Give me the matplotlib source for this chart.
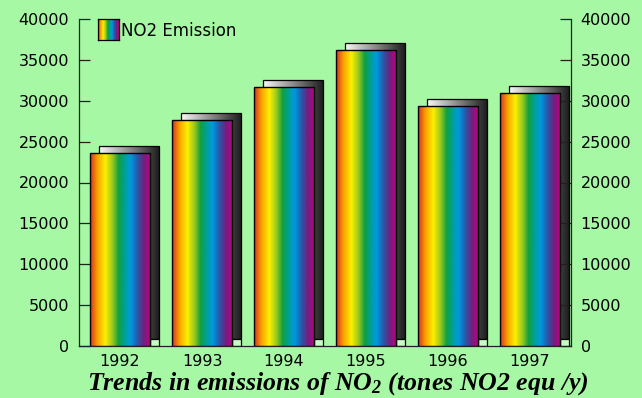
import numpy as np
import matplotlib
matplotlib.use("Agg")
import matplotlib.pyplot as plt
from matplotlib.colors import LinearSegmentedColormap
from matplotlib.patches import Rectangle
from matplotlib.transforms import offset_copy

# data
years = ["1992", "1993", "1994", "1995", "1996", "1997"]
emission = [23600, 27650, 31700, 36200, 29400, 30900]
series_label = "NO2 Emission"
yticks = [0, 5000, 10000, 15000, 20000, 25000, 30000, 35000, 40000]

bg = "#a6f8a4"
rainbow = LinearSegmentedColormap.from_list("rainbow_bar", [
    (0.00, "#d83020"), (0.12, "#f8a000"), (0.25, "#fff000"), (0.37, "#98c820"),
    (0.47, "#10a040"), (0.57, "#00a098"), (0.67, "#0098e0"), (0.78, "#2858a8"),
    (0.88, "#702080"), (1.00, "#c00080")])
greys = LinearSegmentedColormap.from_list("shade", ["#fafafa", "#8a8a8a", "#1a1a1a"])
grad = np.linspace(0, 1, 256).reshape(1, -1)

plt.rcParams["font.family"] = "DejaVu Sans"
plt.rcParams["mathtext.fontset"] = "custom"
plt.rcParams["mathtext.rm"] = "Liberation Serif:italic:bold"
plt.rcParams["mathtext.it"] = "Liberation Serif:italic:bold"

fig = plt.figure(figsize=(6.42, 3.98), dpi=100, facecolor=bg)
ax = fig.add_axes([79 / 642, 52 / 398, 492 / 642, 327 / 398], facecolor=bg)

x = np.arange(len(years))
w = 0.732
ax.set_xlim(-0.5, len(years) - 0.5)
ax.set_ylim(0, 40000)

# shadow boxes shifted up/right by a few pixels
shift = offset_copy(ax.transData, fig=fig, x=9, y=7, units="dots")
shadows = ax.bar(x, emission, width=w, facecolor="none", edgecolor="black",
                 linewidth=0.9, transform=shift, zorder=2)
for b in shadows:
    x0, w0, h0 = b.get_x(), b.get_width(), b.get_height()
    im = ax.imshow(grad, cmap=greys, extent=[x0, x0 + w0, 0, h0], aspect="auto",
                   transform=shift, zorder=1.5)
    im.set_clip_path(b)

# small base step under each shadow
inv = ax.transData.inverted()
d = inv.transform((9, 7)) - inv.transform((0, 0))
for xi in x:
    ax.add_patch(Rectangle((xi + w / 2, 0), d[0], d[1], facecolor="#c8fcc4",
                           edgecolor="black", linewidth=0.9, zorder=2.2))

# front bars with rainbow fill
bars = ax.bar(x, emission, width=w, facecolor="none", edgecolor="black",
              linewidth=1.0, zorder=4)
for b in bars:
    x0, w0, h0 = b.get_x(), b.get_width(), b.get_height()
    im = ax.imshow(grad, cmap=rainbow, extent=[x0, x0 + w0, 0, h0], aspect="auto",
                   zorder=3)
    im.set_clip_path(b)

ax.set_xlim(-0.5, len(years) - 0.5)
ax.set_ylim(0, 40000)

ax.spines["top"].set_visible(False)
for s in ["left", "right", "bottom"]:
    ax.spines[s].set_color("#202020")
    ax.spines[s].set_linewidth(0.9)

ax.set_yticks(yticks)
ax.tick_params(axis="y", direction="in", length=8, width=0.9, color="#202020",
               labelsize=11.5, pad=7, left=True, right=True,
               labelleft=True, labelright=True)
ax.set_xticks(x)
ax.set_xticklabels(years)
ax.tick_params(axis="x", length=0, labelsize=11.5, pad=6)

# legend: gradient swatch + label
lax = fig.add_axes([98 / 642, 1 - 40 / 398, 21 / 642, 21 / 398])
lax.imshow(grad, cmap=rainbow, aspect="auto")
lax.set_xticks([])
lax.set_yticks([])
for s in lax.spines.values():
    s.set_linewidth(0.9)
fig.text(121 / 642, 1 - 31 / 398, series_label, fontsize=12, va="center", ha="left")

fig.text(0.526, 0.022, "Trends in emissions of NO$_2$ (tones NO2 equ /y)",
         family="Liberation Serif", style="italic", weight="bold", fontsize=18.6,
         ha="center", va="baseline")

fig.savefig("out.png", dpi=100, facecolor=bg)
